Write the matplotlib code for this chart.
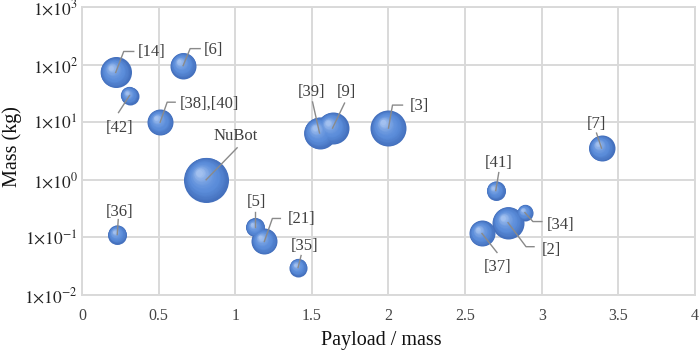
import numpy as np
import matplotlib
matplotlib.use('Agg')
import matplotlib.pyplot as plt
import matplotlib.transforms as mtrans
from matplotlib.lines import Line2D
from matplotlib.colors import to_rgb
from matplotlib.ticker import NullLocator

# data
names = ['[14]', '[42]', '[6]', '[38],[40]', 'NuBot', '[39]', '[9]', '[3]', '[7]',
         '[41]', '[34]', '[2]', '[37]', '[36]', '[5]', '[21]', '[35]']
ratio = [0.22, 0.31, 0.66, 0.51, 0.81, 1.55, 1.635, 2.00, 3.39,
         2.70, 2.89, 2.78, 2.61, 0.23, 1.13, 1.19, 1.41]
mass = [73, 29, 96, 10, 1.0, 6.5, 7.9, 7.9, 3.55,
        0.65, 0.27, 0.18, 0.117, 0.112, 0.149, 0.085, 0.030]
bubble = [15.5, 9, 13, 13, 22.5, 16, 16, 18, 13,
          9.5, 8, 16, 13, 9.5, 9.5, 13, 9]

yticks = [1e-2, 1e-1, 1e0, 1e1, 1e2, 1e3]
ytick_labels = [r'$1{\times}10^{%d}$' % e for e in range(-2, 4)]
xticks = [0, 0.5, 1, 1.5, 2, 2.5, 3, 3.5, 4]
xtick_labels = ['0', '0.5', '1', '1.5', '2', '2.5', '3', '3.5', '4']

# label leader layout, pixel offsets from bubble centre (y down):
# elbow, end of horizontal bit, text position, alignment
label_layout = {
    '[14]': ((8, -21), (18, -21), (22, -20), 'left'),
    '[42]': ((-11, 17), None, (-10, 32), 'center'),
    '[6]': ((7, -17), (17, -17), (21, -16), 'left'),
    '[38],[40]': ((7, -20), (15, -20), (20, -19), 'left'),
    'NuBot': ((31, -32), None, (30, -44), 'center'),
    '[39]': ((-7, -31), None, (-8, -41), 'center'),
    '[9]': ((12, -25), None, (14, -36), 'center'),
    '[3]': ((4, -23), (14, -23), (21, -22), 'left'),
    '[7]': ((-5, -15), None, (-5, -24), 'center'),
    '[41]': ((3, -18), None, (3, -28), 'center'),
    '[34]': ((8, 9), (17, 9), (22, 12), 'left'),
    '[2]': ((18, 24), (26, 24), (34, 27), 'left'),
    '[37]': ((15, 19), None, (16, 34), 'center'),
    '[36]': ((1, -15), None, (2, -23), 'center'),
    '[5]': ((0, -15), None, (1, -25), 'center'),
    '[21]': ((8, -23), (16, -23), (23, -22), 'left'),
    '[35]': ((3, -12), None, (6, -22), 'center'),
}

plt.rcParams['font.family'] = ['Liberation Serif', 'DejaVu Serif']
plt.rcParams['mathtext.fontset'] = 'stix'

fig = plt.figure(figsize=(7, 3.53), dpi=100)
ax = fig.add_axes([82 / 700, 58 / 353, 613 / 700, 288 / 353])
ax.set_yscale('log')
ax.set_xlim(0, 4)
ax.set_ylim(1e-2, 1e3)

grid_col = '#d9d9d9'
ax.grid(True, color=grid_col, lw=1.4, zorder=0)
for sp in ax.spines.values():
    sp.set_color(grid_col)
    sp.set_linewidth(1.4)
ax.set_axisbelow(True)

ax.set_yticks(yticks)
ax.set_yticklabels(ytick_labels)
ax.yaxis.set_minor_locator(NullLocator())
ax.set_xticks(xticks)
ax.set_xticklabels(xtick_labels)
ax.tick_params(axis='y', length=0, pad=3, labelsize=12.5, labelcolor='#222222')
ax.tick_params(axis='x', length=0, pad=9, labelsize=11.5, labelcolor='#444444')

ax.set_xlabel('Payload / mass', fontsize=14.5, va='center', color='#111111')
ax.xaxis.set_label_coords(0.489, -0.159)
ax.set_ylabel('Mass (kg)', fontsize=14.5, va='center', color='#111111')
ax.yaxis.set_label_coords(-0.114, 0.517)

# shaded bubbles, built up from stacked circles
edge = np.array(to_rgb('#4470bd'))
body = np.array(to_rgb('#5b8dda'))
high = np.array(to_rgb('#a2c0ef'))
n_layers = 22


def shade(t):
    if t < 0.4:
        return edge + (body - edge) * (t / 0.4)
    return body + (high - body) * ((t - 0.4) / 0.6) ** 1.6


def px(dx, dy):
    return mtrans.ScaledTranslation(dx / 100, -dy / 100, fig.dpi_scale_trans)


for x, y, r in zip(ratio, mass, bubble):
    for i in range(n_layers):
        t = i / (n_layers - 1)
        rr = r * (1 - 0.85 * t)
        off = px(-0.3 * r * t, -0.32 * r * t)
        ax.scatter([x], [y], s=(2 * rr * 0.72) ** 2, color=shade(t), lw=0,
                   transform=ax.transData + off, zorder=3 + t * 0.01)

# leader lines and labels (leader drawn in display pixels)
scale = fig.dpi / 100
for name, x, y in zip(names, ratio, mass):
    elbow, end, tpos, ha = label_layout[name]
    pts = [(0, 0), elbow] + ([end] if end else [])
    cx, cy = ax.transData.transform((x, y))
    xs = [cx + p[0] * scale for p in pts]
    ys = [cy - p[1] * scale for p in pts]
    fig.add_artist(Line2D(xs, ys, color='#8a8a8a', lw=1.0, zorder=5,
                          transform=mtrans.IdentityTransform()))
    ax.text(x, y, name, ha=ha, va='center', fontsize=12, color='#404040',
            transform=ax.transData + px(*tpos), zorder=6)

fig.savefig('out.png', dpi=100)
